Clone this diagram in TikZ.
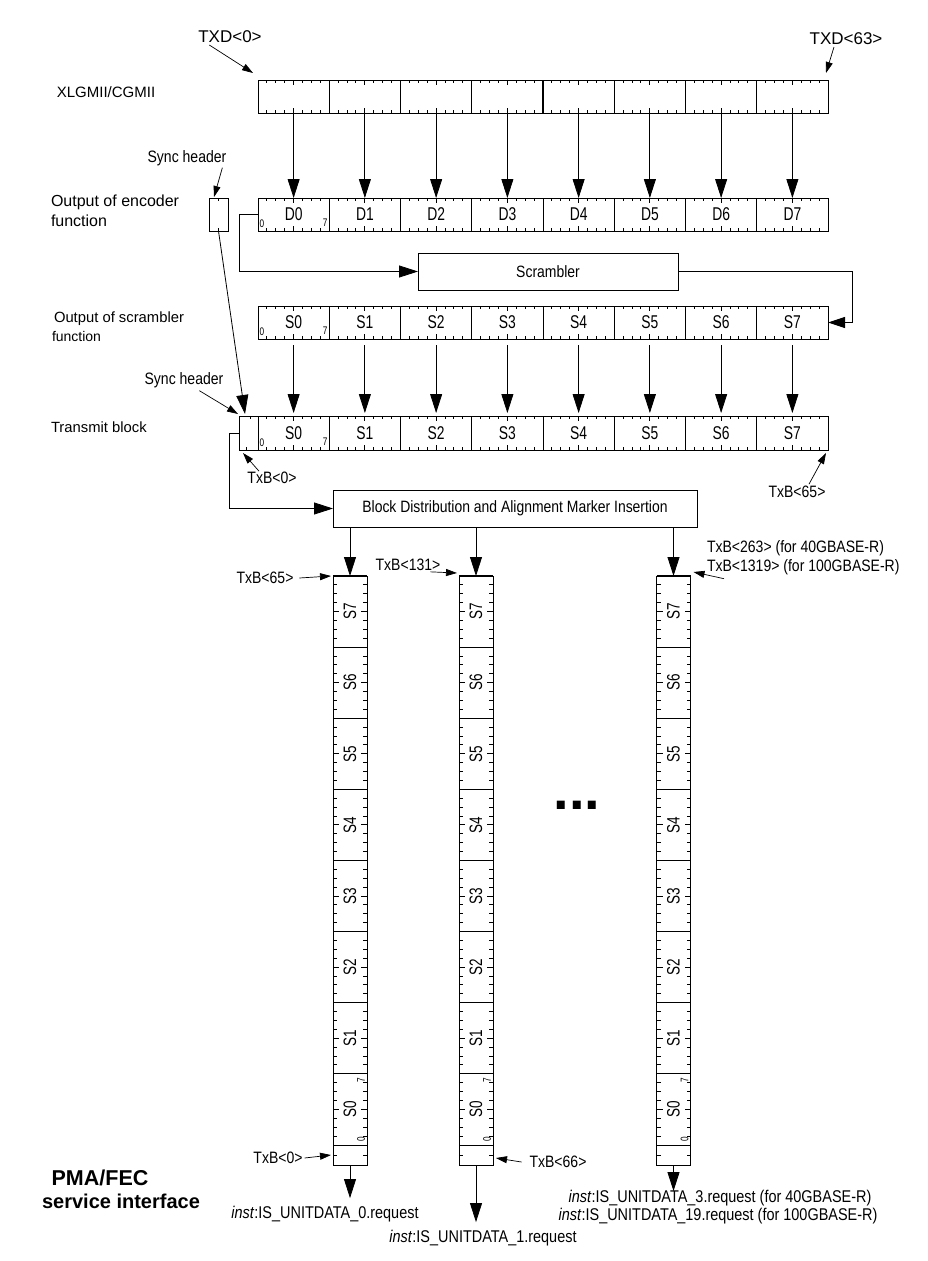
\documentclass[tikz,border=0pt]{standalone}
\usepackage{fontspec}
\usepackage{graphicx}
\setmainfont{Liberation Sans}
\newfontfamily\condfont{Liberation Sans}[FakeStretch=0.75]
\newfontfamily\lblfont{Liberation Sans}[FakeStretch=0.85]
\usetikzlibrary{arrows.meta,calc}
\newcommand\myhticks[2]{%
 \foreach \i in {0,...,7}{\foreach \k in {1,...,7}{%
  \pgfmathsetmacro\xx{258+71.25*\i+8.906*\k}%
  \pgfmathsetmacro\tklen{ifthenelse(\k==4,5,3)}%
  \draw[tick] (\xx,#1) -- ++(0,\tklen);
  \draw[tick] (\xx,#2) -- ++(0,-\tklen);}}}
\newcommand\myvticks[2]{%
 \foreach \j in {0,...,7}{\foreach \k in {1,...,7}{%
  \pgfmathsetmacro\yy{576+71.125*\j+8.89*\k}%
  \pgfmathsetmacro\tklen{ifthenelse(\k==4,6,4)}%
  \draw[tick] (#1,\yy) -- ++(\tklen,0);
  \draw[tick] (#2,\yy) -- ++(-\tklen,0);}}}
\begin{document}
\begin{tikzpicture}[x=1pt,y=-1pt,
  every node/.style={inner sep=0pt, outer sep=0pt},
  lbl/.style={font=\lblfont\fontsize{16.5}{19}\selectfont},
  outlbl/.style={font=\lblfont\fontsize{17}{19}\selectfont},
  oct/.style={draw, line width=0.8pt, minimum width=71.25pt, minimum height=33pt, anchor=north west, font=\condfont\fontsize{18.5}{18}\selectfont},
  colseg/.style={draw, line width=0.8pt, minimum width=34pt, minimum height=71.125pt, anchor=north west, font=\condfont\fontsize{18}{18}\selectfont},
  colsync/.style={draw, line width=0.8pt, minimum width=34pt, minimum height=20pt, anchor=north west},
  procbox/.style={draw, line width=0.8pt, minimum height=37pt, font=\lblfont\fontsize{16.4}{19}\selectfont},
  tiny/.style={font=\condfont\fontsize{11}{11}\selectfont},
  tick/.style={line width=1pt},
  bigarr/.style={-{Triangle[length=19pt,width=12pt]}, line width=0.8pt},
  ptr/.style={-{Triangle[length=11pt,width=7pt]}, line width=0.7pt},
  conn/.style={line width=0.8pt}
]
\useasboundingbox (0,0) rectangle (928,1261);
\fill[white] (0,0) rectangle (928,1261);

% ---------- left labels ----------
\node[font=\fontsize{15}{17}\selectfont] (lx) at (106,92) {XLGMII/CGMII};
\node[font=\fontsize{16}{20}\selectfont, align=left, anchor=north west] (lenc) at (51,195) {Output of encoder\\function};
\node[font=\fontsize{14.8}{17}\selectfont, anchor=north west] (lscr) at (54,312) {Output of scrambler};
\node[font=\fontsize{14}{16}\selectfont, anchor=north west] (lscr2) at (52,331) {function};
\node[font=\fontsize{14.8}{17}\selectfont, anchor=west] (ltx) at (51,427) {Transmit block};

% ---------- XLGMII row ----------
\foreach \i in {0,...,7} {\node[oct] (x\i) at ({258+71.25*\i},80) {};}
\draw[line width=1.8pt] (x3.north east) -- (x3.south east);
\myhticks{80}{113}
\node[font=\fontsize{17}{18}\selectfont] (txd0) at (230,37) {TXD<0>};
\node[font=\fontsize{17}{18}\selectfont] (txd63) at (846,39) {TXD<63>};
\draw[ptr] ([xshift=11pt,yshift=-2pt]txd0.south west) -- ([xshift=-5pt,yshift=7pt]x0.north west);
\draw[ptr] ([xshift=-12pt,yshift=-2pt]txd63.south) -- ([xshift=-2pt,yshift=7pt]x7.north east);

% ---------- encoder row ----------
\foreach \i in {0,...,7} {\node[oct] (d\i) at ({258+71.25*\i},198) {D\i};}
\myhticks{198}{231}
\node[tiny] (d0z) at ($(d0.south west)+(4,-7)$) {0};
\node[tiny] (d0s) at ($(d0.south east)+(-4,-8)$) {7};
\foreach \i in {0,...,7} {\draw[bigarr] (x\i.south) -- (d\i.north);}

\node[draw, line width=0.8pt, minimum width=19pt, minimum height=33pt, anchor=north west] (sb) at (209,198) {};
\draw[tick] (sb.north) -- ++(0,3);
\draw[tick] (sb.south) -- ++(0,-3);
\node[lbl] (sh1) at (187,158) {Sync header};
\draw[ptr] ([xshift=-4pt,yshift=-2pt]sh1.south east) -- ([xshift=5pt,yshift=1pt]sb.north west);

% ---------- scrambler ----------
\node[procbox, minimum width=260pt] (scr) at (548,271.5) {Scrambler};
\draw[conn,-{Triangle[length=19pt,width=12pt]}] (d0.west) -- ++(-19,0) |- (scr.west);

% ---------- scrambler output row ----------
\foreach \i in {0,...,7} {\node[oct] (s\i) at ({258+71.25*\i},306) {S\i};}
\myhticks{306}{339}
\node[tiny] (s0z) at ($(s0.south west)+(4,-7)$) {0};
\node[tiny] (s0s) at ($(s0.south east)+(-4,-8)$) {7};
\draw[conn,-{Triangle[length=17pt,width=11pt]}] (scr.east) -- ++(174,0) |- (s7.east);

% ---------- transmit block ----------
\foreach \i in {0,...,7} {\node[oct, minimum height=34pt] (t\i) at ({258+71.25*\i},416) {S\i};}
\myhticks{416}{450}
\node[tiny] (t0z) at ($(t0.south west)+(4,-7)$) {0};
\node[tiny] (t0s) at ($(t0.south east)+(-4,-8)$) {7};
\node[draw, line width=0.8pt, minimum width=19pt, minimum height=34pt, anchor=north west] (ts) at (239,416) {};
\draw[tick] ([xshift=2pt]ts.north) -- ++(0,3);
\draw[tick] ([xshift=-2pt]ts.south) -- ++(0,-3);
\foreach \i in {0,...,7} {\draw[bigarr, shorten <=6pt, shorten >=3pt] (s\i.south) -- (t\i.north);}
\draw[bigarr] (sb.south) -- ([xshift=6pt,yshift=2pt]ts.north west);

\node[lbl] (sh2) at (184,380) {Sync header};
\draw[ptr] ([xshift=-24pt,yshift=-3pt]sh2.south east) -- ([xshift=-1pt,yshift=2pt]ts.north west);
\node[lbl] (txb0a) at (272,478) {TxB<0>};
\draw[ptr] ([xshift=-13pt,yshift=1pt]txb0a.north) -- ([xshift=4pt,yshift=-3pt]ts.south west);
\node[lbl] (txb65a) at (797,492) {TxB<65>};
\draw[ptr] ([xshift=12pt,yshift=2pt]txb65a.north) -- ([xshift=-2pt,yshift=-3pt]t7.south east);

% ---------- block distribution ----------
\node[procbox, minimum width=364pt] (bd) at (515,508.5) {Block Distribution and Alignment Marker Insertion};
\draw[conn,-{Triangle[length=19pt,width=12pt]}] (ts.west) -- ++(-10,0) |- (bd.west);

% ---------- columns ----------
\foreach \c/\xl in {1/333,2/459,3/656.5} {
  \foreach \j in {0,...,7} {
    \node[colseg] (c\c-\j) at (\xl,{576+71.125*(7-\j)}) {\rotatebox{90}{S\j}};
  }
  \node[colsync] (c\c-h) at (\xl,1145) {};
  \draw[line width=1.8pt] (c\c-7.north west) -- (c\c-7.north east);
  \draw[tick] (c\c-h.west) -- ++(4,0);
  \draw[tick] (c\c-h.east) -- ++(-4,0);
  \node[tiny] at ($(c\c-0.north east)+(-6,6)$) {\rotatebox{90}{7}};
  \node[tiny] at ($(c\c-0.south east)+(-6,-6)$) {\rotatebox{90}{0}};
  \draw[bigarr] (bd.south -| c\c-7.north) -- (c\c-7.north);
}
\myvticks{333}{367}
\myvticks{459}{493}
\myvticks{656.5}{690.5}

\node[font=\fontsize{56}{56}\selectfont\bfseries, anchor=base] (dots) at (577,809) {...};

% column labels
\node[lbl] (txb65b) at (265,578) {TxB<65>};
\draw[ptr] ([xshift=6pt]txb65b.east) -- ([xshift=-2pt]c1-7.north west);
\node[lbl] (txb131) at (408,565) {TxB<131>};
\draw[ptr] ([xshift=-10pt,yshift=-1pt]txb131.south east) -- ([xshift=-2pt,yshift=3pt]c2-7.north west);
\node[lbl, anchor=west] (txb263) at (707,548) {TxB<263> (for 40GBASE-R)};
\node[lbl, anchor=west] (txb1319) at (707,567) {TxB<1319> (for 100GBASE-R)};
\draw[ptr] ([xshift=17pt,yshift=-4pt]txb1319.south west) -- ([xshift=3pt,yshift=4pt]c3-7.north east);

\node[lbl] (txb0b) at (278,1158) {TxB<0>};
\draw[ptr] ([xshift=2pt]txb0b.east) -- ([xshift=-2pt]c1-h.west);
\node[lbl] (txb66) at (558,1162) {TxB<66>};
\draw[ptr] ([xshift=-8pt]txb66.west) -- ([xshift=3pt,yshift=-3pt]c2-h.east);

% outputs
\node[outlbl] (o0) at (325,1214) {\textit{inst}:IS\_UNITDATA\_0.request};
\node[outlbl] (o1) at (483,1238) {\textit{inst}:IS\_UNITDATA\_1.request};
\node[outlbl] (o3) at (720,1198) {\textit{inst}:IS\_UNITDATA\_3.request (for 40GBASE-R)};
\node[outlbl] (o19) at (718,1216) {\textit{inst}:IS\_UNITDATA\_19.request (for 100GBASE-R)};
\draw[bigarr, shorten >=8pt] (c1-h.south) -- (o0.north -| c1-h.south);
\draw[bigarr, shorten >=8pt] (c2-h.south) -- (o1.north -| c2-h.south);
\draw[bigarr, shorten >=-1pt] (c3-h.south) -- (o3.north -| c3-h.south);

\node[font=\fontsize{21.5}{22}\selectfont\bfseries] (pma1) at (100,1178) {PMA/FEC};
\node[font=\fontsize{20}{22}\selectfont\bfseries] (pma2) at (121,1201) {service interface};
\end{tikzpicture}
\end{document}
